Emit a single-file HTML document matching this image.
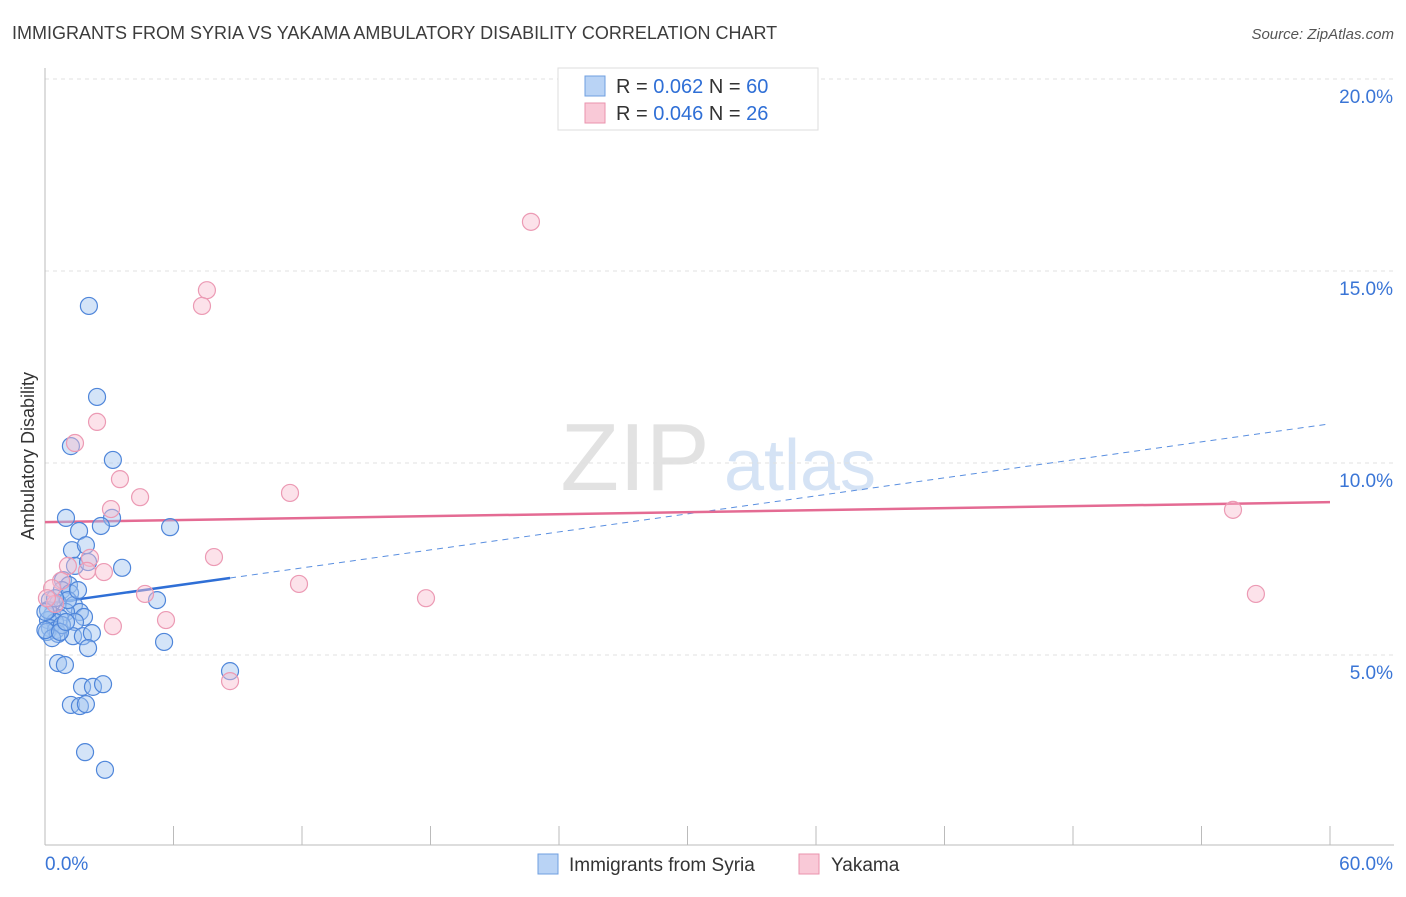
<!DOCTYPE html>
<html><head><meta charset="utf-8"><style>
body{margin:0;background:#fff;font-family:"Liberation Sans",sans-serif}
svg text{font-family:"Liberation Sans",sans-serif}
</style></head><body>
<svg width="1406" height="892" viewBox="0 0 1406 892">
<text x="12" y="39" font-size="18" fill="#3c3c3c">IMMIGRANTS FROM SYRIA VS YAKAMA AMBULATORY DISABILITY CORRELATION CHART</text>
<text x="1394" y="39" font-size="15" fill="#555" text-anchor="end" font-style="italic">Source: ZipAtlas.com</text>
<text transform="translate(34,456) rotate(-90)" font-size="18" fill="#333" text-anchor="middle">Ambulatory Disability</text>
<g>
<text x="635" y="490" font-size="96" fill="#e2e2e2" font-family="Liberation Serif" text-anchor="middle">ZIP</text>
<text x="800" y="490" font-size="72" fill="#d5e3f5" text-anchor="middle">atlas</text>
</g>
<g id="grid"></g>
<g id="axes"></g>
<g id="lines"></g>
<g id="pts"></g>
<g>
<rect x="558" y="68" width="260" height="62" fill="#fff" stroke="#ddd"/>
<rect x="585" y="76" width="20" height="20" fill="#b9d3f5" stroke="#6f9fe0"/>
<rect x="585" y="103" width="20" height="20" fill="#f9c9d7" stroke="#ea93ae"/>
<text x="616" y="93" font-size="20" fill="#333">R = <tspan fill="#2f6fd6">0.062</tspan>   N = <tspan fill="#2f6fd6">60</tspan></text>
<text x="616" y="120" font-size="20" fill="#333">R = <tspan fill="#2f6fd6">0.046</tspan>   N = <tspan fill="#2f6fd6"> 26</tspan></text>
</g>
<g>
<rect x="538" y="854" width="20" height="20" fill="#b9d3f5" stroke="#6f9fe0"/>
<text x="569" y="871" font-size="19" fill="#333">Immigrants from Syria</text>
<rect x="799" y="854" width="20" height="20" fill="#f9c9d7" stroke="#ea93ae"/>
<text x="831" y="871" font-size="19" fill="#333">Yakama</text>
</g>
</svg>
<script>
const xTicks=[0,60];
const yTicks=[5,10,15,20];
const syriaX=[2.05,2.43,1.21,3.17,0.98,3.13,2.61,5.84,1.59,1.26,1.91,3.60,1.40,2.01,0.84,1.12,0.79,1.17,5.23,0.23,0.61,1.35,1.63,0.98,0.33,1.82,0.70,0.14,0.47,1.40,0.23,0.51,0.09,0.61,1.31,1.77,2.19,2.01,5.56,8.64,0.61,0.93,1.73,2.24,2.71,1.21,1.63,1.91,1.87,2.80,0.14,0.79,0.33,0.02,1.07,0.47,1.54,0.70,0.98,0.02];
const syriaY=[14.09,11.72,10.44,10.08,8.57,8.57,8.36,8.33,8.23,7.73,7.86,7.27,7.32,7.42,6.95,6.82,6.69,6.61,6.43,6.43,6.35,6.30,6.12,6.12,6.04,5.99,5.96,5.91,5.86,5.86,5.70,5.65,5.60,5.55,5.49,5.49,5.57,5.18,5.34,4.58,4.79,4.74,4.17,4.17,4.24,3.70,3.67,3.72,2.47,2.01,6.17,5.78,5.44,5.65,6.43,6.48,6.69,5.60,5.86,6.12];
const yakamaX=[22.69,7.56,7.33,2.43,1.40,3.50,3.08,4.44,11.44,7.89,1.07,2.10,1.96,2.75,0.75,4.67,0.33,11.86,17.79,5.65,3.17,8.64,55.47,56.54,0.47,0.09];
const yakamaY=[16.28,14.50,14.09,11.07,10.52,9.58,8.80,9.11,9.22,7.55,7.32,7.53,7.19,7.16,6.93,6.59,6.74,6.85,6.48,5.91,5.75,4.32,8.78,6.59,6.33,6.48];
const syriaTrend=[6.33,11.02];
const yakamaTrend=[8.46,8.98];
const X0=45,X1=1330,YB=847;
const sx=v=>X0+(v/60)*(X1-X0);
const sy=v=>YB-v*192/5;
const NS="http://www.w3.org/2000/svg";
function mk(tag,attrs,parent){const e=document.createElementNS(NS,tag);for(const k in attrs)e.setAttribute(k,attrs[k]);parent.appendChild(e);return e;}
const grid=document.getElementById('grid'),axes=document.getElementById('axes'),lines=document.getElementById('lines'),pts=document.getElementById('pts');
yTicks.forEach(t=>{
 const l=mk('line',{x1:X0,x2:1394,y1:sy(t),y2:sy(t),stroke:'#e0e0e0','stroke-dasharray':'4 4'},grid);
 
 
 const tx=mk('text',{x:1393,y:sy(t)+24,'font-size':19,fill:'#3a75d6','text-anchor':'end'},axes);
 tx.textContent=t.toFixed(1)+'%';
 
 
});
const ax=mk('line',{x1:X0,x2:X0,y1:68,y2:845,stroke:'#bbb'},axes);


const bx=mk('line',{x1:X0,x2:1394,y1:845,y2:845,stroke:'#bbb'},axes);


for(let i=1;i<=10;i++){const v=i*6;const t=mk('line',{x1:sx(v),x2:sx(v),y1:826,y2:845,stroke:'#bbb'},axes);
 
 }
xTicks.forEach((t,i)=>{const tx=mk('text',{x:i?1393:45,y:870,'font-size':19,fill:'#3a75d6','text-anchor':i?'end':'start'},axes);
 tx.textContent=t.toFixed(1)+'%';
 
 });
// trends
const xm=Math.max(...syriaX);
const ym=syriaTrend[0]+(syriaTrend[1]-syriaTrend[0])*xm/60;
const s1=mk('line',{x1:sx(0),y1:sy(syriaTrend[0]),x2:sx(xm),y2:sy(ym),stroke:'#2f6fd6','stroke-width':2.5},lines);


const s2=mk('line',{x1:sx(xm),y1:sy(ym),x2:sx(60),y2:sy(syriaTrend[1]),stroke:'#5a8fe0','stroke-width':1,'stroke-dasharray':'6 5'},lines);


const p1=mk('line',{x1:sx(0),y1:sy(yakamaTrend[0]),x2:sx(60),y2:sy(yakamaTrend[1]),stroke:'#e46b93','stroke-width':2.5},lines);


syriaX.forEach((x,i)=>{const c=mk('circle',{cx:sx(x),cy:sy(syriaY[i]),r:8.5,fill:'rgba(160,196,240,0.45)',stroke:'#4f86da','stroke-width':1.2},pts);
 
 });
yakamaX.forEach((x,i)=>{const c=mk('circle',{cx:sx(x),cy:sy(yakamaY[i]),r:8.5,fill:'rgba(248,190,208,0.45)',stroke:'#ec9ab4','stroke-width':1.2},pts);
 
 });
</script>
</body></html>
